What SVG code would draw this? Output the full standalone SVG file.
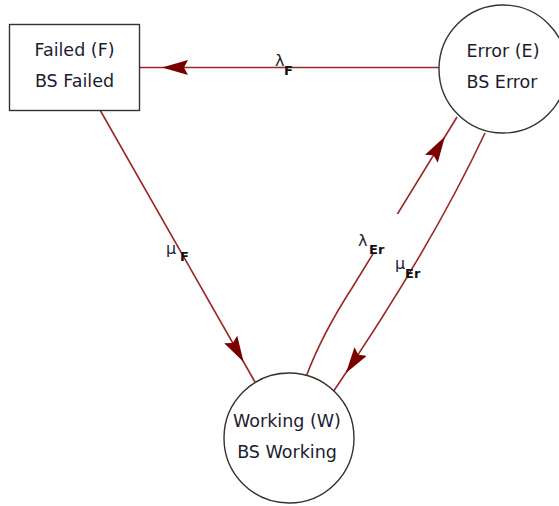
<svg xmlns="http://www.w3.org/2000/svg" width="559" height="506" viewBox="0 0 559 506">
  <style>
    .node { fill: #ffffff; stroke: #333333; stroke-width: 1.4; }
    .ntext { font-family: "DejaVu Sans", Verdana, sans-serif; font-size: 17.5px; fill: #1c1c30; text-anchor: middle; }
    .edge { fill: none; stroke: #9a2626; stroke-width: 1.6; marker-end: url(#arrow); }
    .greek { font-family: "DejaVu Sans", sans-serif; font-size: 16px; fill: #222233; }
    .sub { font-family: "DejaVu Sans", sans-serif; font-size: 13px; font-weight: bold; fill: #111111; }
  </style>
  <defs>
    <marker id="arrow" markerUnits="userSpaceOnUse" viewBox="0 0 50 15" markerWidth="50" markerHeight="15" refX="49" refY="7.5" orient="auto">
      <path d="M0,0 L26,7.5 L0,15 L4,7.5 Z" fill="#7a0000"/>
    </marker>
  </defs>
  <rect width="559" height="506" fill="#ffffff"/>

  <g id="connectors">
    <path id="e-E-F" class="edge" d="M439,67.5 L139,67.5"/>
    <path id="e-F-W" class="edge" d="M100,110 L255,382"/>
    <path id="e-W-E" class="edge" d="M306,377 C316,350 330,322 352,288 L457,117"/>
    <path id="e-E-W" class="edge" d="M485,133 Q430,250 333,392"/>
  </g>

  <g id="labels">
    <g id="label-lambdaF">
      <text class="greek" x="275" y="66">λ</text>
      <text class="sub" x="284" y="75">F</text>
    </g>
    <g id="label-muF">
      <text class="greek" x="166" y="254">μ</text>
      <text class="sub" x="180" y="261">F</text>
    </g>
    <g id="label-lambdaEr">
      <rect x="364" y="214" width="36" height="39" fill="#ffffff"/>
      <text class="greek" x="358" y="246">λ</text>
      <text class="sub" x="369" y="254">Er</text>
    </g>
    <g id="label-muEr">
      <text class="greek" x="395" y="269">μ</text>
      <text class="sub" x="405" y="278">Er</text>
    </g>
  </g>

  <g id="node-F">
    <rect class="node" x="9.5" y="24.5" width="130" height="86"/>
    <text class="ntext" x="74.5" y="56">Failed (F)</text>
    <text class="ntext" x="74.5" y="87">BS Failed</text>
  </g>

  <g id="node-E">
    <circle class="node" cx="503" cy="69" r="64"/>
    <text class="ntext" x="503" y="56.5">Error (E)</text>
    <text class="ntext" x="502" y="88">BS Error</text>
  </g>

  <g id="node-W">
    <circle class="node" cx="289" cy="438" r="65"/>
    <text class="ntext" x="287" y="427">Working (W)</text>
    <text class="ntext" x="287" y="458">BS Working</text>
  </g>
</svg>
